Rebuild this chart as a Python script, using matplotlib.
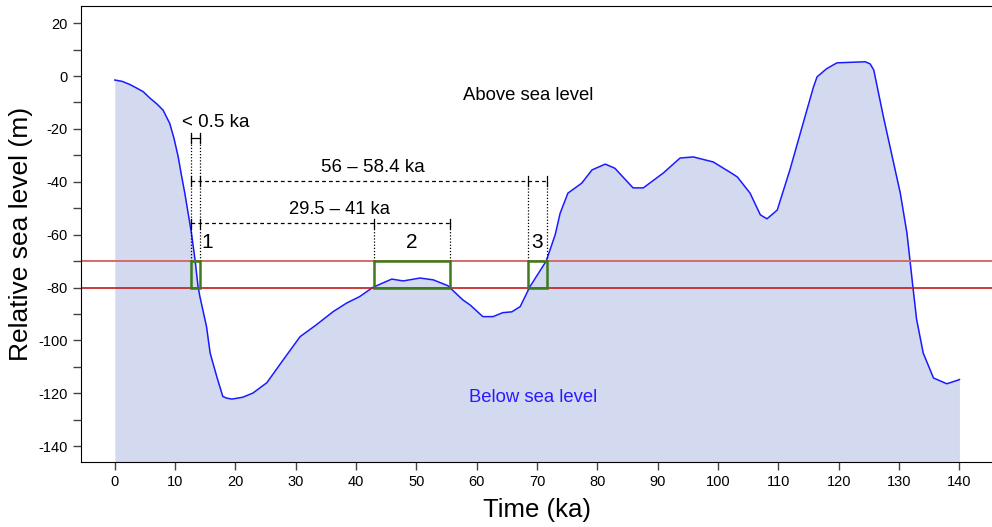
import matplotlib.pyplot as plt
import numpy as np

plt.rcParams['font.family'] = ['Liberation Sans', 'DejaVu Sans']
plt.rcParams['axes.unicode_minus'] = False

# sea level curve
time_ka = [0, 1.2, 2.5, 3.5, 4.7, 5.8, 7.0, 8.0, 9.1, 9.8, 10.5, 11.0, 11.6, 12.7, 13.3,
           13.8, 14.1, 15.2, 15.8, 16.9, 17.9, 18.5, 19.4, 21.2, 22.9, 25.2, 27.9,
           30.7, 33.4, 36.2, 38.4, 40.6, 42.8, 45.9, 47.8, 50.6, 52.8, 55.2, 57.7,
           58.9, 61.0, 62.7, 64.3, 65.8, 67.2, 68.8, 71.5, 73.0, 73.8, 75.1, 77.4,
           79.1, 81.3, 82.9, 85.9, 87.6, 90.9, 93.7, 95.9, 99.2, 102.2, 103.2, 105.3,
           107.0, 108.1, 109.8, 111.9, 114.1, 115.8, 116.4, 118.0, 119.7, 122.0,
           124.4, 125.2, 125.8, 127.4, 130.2, 131.3, 131.8, 132.3, 132.9, 134.0,
           135.7, 137.9, 139.8, 140]
sea_level = [-1.5, -2.0, -3.2, -4.4, -5.9, -8.3, -10.6, -12.9, -17.9, -23.5, -30.5,
             -37.0, -44.3, -59.4, -69.6, -79.7, -83.4, -94.8, -104.8, -113.7, -121.2,
             -121.8, -122.2, -121.5, -119.9, -116.0, -107.4, -98.6, -94.1, -89.1,
             -85.9, -83.4, -79.9, -76.8, -77.5, -76.4, -77.1, -79.3, -84.7, -86.6,
             -91.0, -91.0, -89.5, -89.2, -87.2, -79.7, -70.0, -60.0, -52.0, -44.3,
             -40.5, -35.5, -33.3, -34.9, -42.3, -42.3, -36.7, -31.0, -30.6, -32.5,
             -36.7, -38.2, -44.3, -52.5, -54.0, -50.7, -35.5, -17.8, -4.2, -0.3, 2.8,
             5.0, 5.2, 5.4, 4.6, 2.3, -15.4, -44.3, -59.4, -69.6, -80.0, -92.0,
             -104.8, -114.2, -116.4, -115.0, -114.8]

window = [-80, -70]
# green boxes: (start, end) in ka
boxes = [(12.7, 14.1), (43.0, 55.6), (68.5, 71.6)]
box_labels = ['1', '2', '3']
box_label_x = [15.3, 49.3, 70.0]

fig = plt.figure(figsize=(9.92, 5.27), dpi=100)
ax = fig.add_axes([0.0817, 0.1233, 0.9183, 0.8653])

ax.fill_between(time_ka, sea_level, -160, color='#d3d9ee', lw=0)
ax.plot(time_ka, sea_level, color='#1a1aff', lw=1.1)

ax.axhline(window[1], color='#d66a6a', lw=1.4)
ax.axhline(window[0], color='#c41a1a', lw=1.2)

for (x0, x1), lab, lx in zip(boxes, box_labels, box_label_x):
    ax.add_patch(plt.Rectangle((x0, window[0]), x1 - x0, window[1] - window[0],
                               fill=False, ec='#3c7a1c', lw=1.8, zorder=5))
    ax.text(lx, -63, lab, ha='center', va='center', fontsize=15)

# dotted guide lines
dot = dict(color='black', lw=0.9, ls=(0, (1, 1.5)))
for x in boxes[0]:
    ax.plot([x, x], [-70, -21.5], **dot)
for x in boxes[1]:
    ax.plot([x, x], [-70, -55.7], **dot)
for x in boxes[2]:
    ax.plot([x, x], [-70, -39.7], **dot)

def span(y, xs, x_end):
    ax.plot([xs[0], x_end], [y, y], color='black', lw=0.9, ls=(0, (3, 2.5)))
    for x in xs:
        ax.plot([x, x], [y - 1.8, y + 1.8], color='black', lw=0.9)

span(-39.7, [12.7, 14.1, 68.5, 71.6], 71.6)
span(-55.7, [12.7, 14.1, 43.0, 55.6], 55.6)
# small H bracket
ax.plot([12.7, 14.1], [-23.5, -23.5], color='black', lw=0.9)
for x in boxes[0]:
    ax.plot([x, x], [-21.5, -25.5], color='black', lw=0.9)

ax.text(11.2, -17.5, '< 0.5 ka', fontsize=13.5, va='center')
ax.text(42.8, -34.5, '56 – 58.4 ka', fontsize=13.5, ha='center', va='center')
ax.text(37.3, -50.5, '29.5 – 41 ka', fontsize=13.2, ha='center', va='center')
ax.text(68.5, -7.4, 'Above sea level', fontsize=13.3, ha='center', va='center')
ax.text(69.3, -121.7, 'Below sea level', fontsize=13.3, ha='center', va='center',
        color='#2a1aff')

ax.set_xlim(-5.6, 145.4)
ax.set_ylim(-146, 26.5)
ax.set_xticks(np.arange(0, 141, 10))
ax.set_yticks(np.arange(-140, 21, 20))
ax.set_yticks(np.arange(-130, 20, 20), minor=True)
ax.tick_params(which='both', direction='out', length=6, width=1, color='#444444',
               labelsize=10.5)
ax.spines['right'].set_visible(False)
ax.set_xlabel('Time (ka)', fontsize=18.5, labelpad=6)
ax.set_ylabel('Relative sea level (m)', fontsize=19, labelpad=4)

fig.savefig('out.png', dpi=100)
